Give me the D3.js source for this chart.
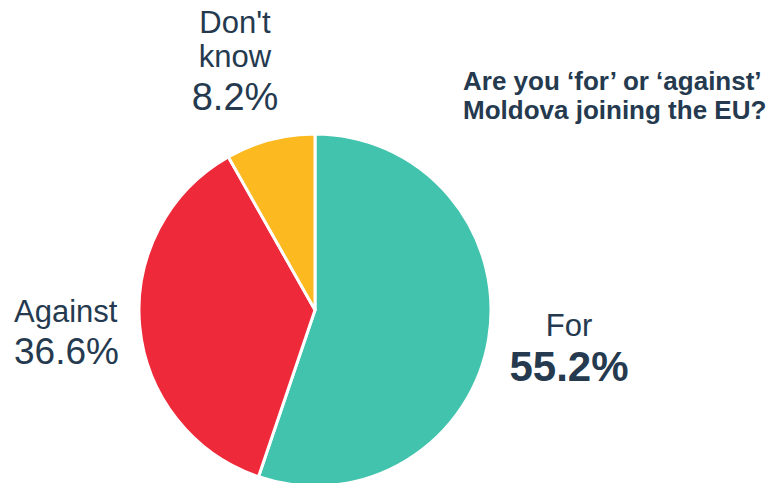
<!DOCTYPE html>
<html>
<head>
<meta charset="utf-8">
<script src="https://cdn.jsdelivr.net/npm/d3@7"></script>
<style>
  body { margin: 0; background: #ffffff; }
  text { font-family: "Liberation Sans", Arial, sans-serif; fill: #253a4f; }
</style>
</head>
<body>
<div id="chart"></div>
<script>
// survey answers, clockwise from 12 o'clock
const answers = ["For", "Against", "Don't know"];
const shares = [55.2, 36.6, 8.2];
const sliceColors = ["#42c3ad", "#ee2939", "#fdb920"];
const titleLines = ["Are you \u2018for\u2019 or \u2018against\u2019", "Moldova joining the EU?"];

const w = 776, h = 483;
const cx = 315, cy = 310, r = 176;

const svg = d3.select("div#chart")
  .append("svg")
  .attr("width", w)
  .attr("height", h)
  .attr("viewBox", "0 0 " + w + " " + h);

const pie = d3.pie().sort(null).value(d => d);
const arc = d3.arc().innerRadius(0).outerRadius(r);

const color = d3.scaleOrdinal().domain(answers).range(sliceColors);

const g = svg.append("g").attr("transform", "translate(" + cx + "," + cy + ")");

g.selectAll("path")
  .data(pie(shares))
  .enter()
  .append("path")
  .attr("d", arc)
  .attr("fill", (d, i) => color(answers[i]))
  .attr("stroke", "#ffffff")
  .attr("stroke-width", 3)
  .attr("stroke-linejoin", "round");

// labels: name lines + value line, placed by hand like the original
const labels = [
  { lines: ["For"], x: 569, y: 336, anchor: "middle", pct: 42, bold: true, gap: 45 },
  { lines: ["Against"], x: 14, y: 322, anchor: "start", pct: 37, bold: false, gap: 42 },
  { lines: ["Don't", "know"], x: 235, y: 33, anchor: "middle", pct: 38, bold: false, gap: 43 }
];

labels.forEach((lab, i) => {
  const t = svg.append("text")
    .attr("x", lab.x)
    .attr("y", lab.y)
    .attr("text-anchor", lab.anchor)
    .style("font-size", "31px");
  lab.lines.forEach((ln, j) => {
    t.append("tspan")
      .attr("x", lab.x)
      .attr("dy", j === 0 ? 0 : 34)
      .text(ln);
  });
  t.append("tspan")
    .attr("x", lab.x)
    .attr("dy", lab.gap)
    .style("font-size", lab.pct + "px")
    .style("font-weight", lab.bold ? "bold" : "normal")
    .text(shares[i].toFixed(1) + "%");
});

svg.append("text")
  .attr("x", 463)
  .attr("y", 90)
  .style("font-size", "26px")
  .style("font-weight", "bold")
  .selectAll("tspan")
  .data(titleLines)
  .enter()
  .append("tspan")
  .attr("x", 463)
  .attr("dy", (d, i) => i === 0 ? 0 : 29)
  .text(d => d);
</script>
</body>
</html>
